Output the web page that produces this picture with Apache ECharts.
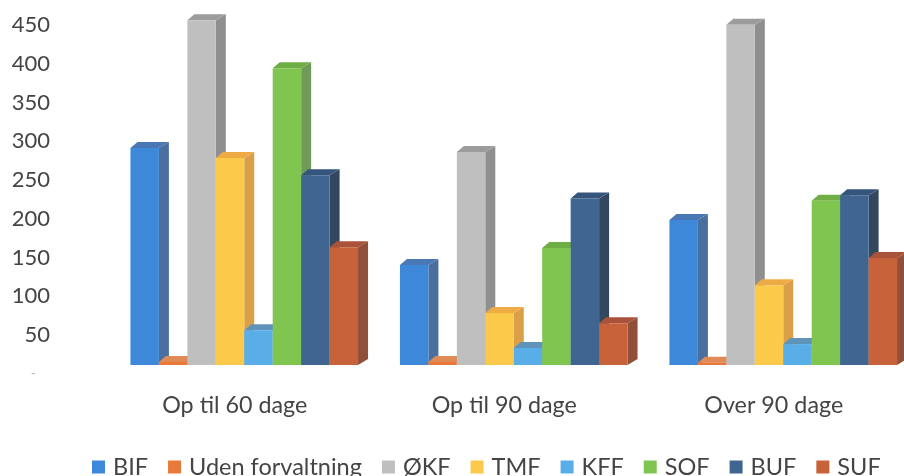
<!DOCTYPE html>
<html><head><meta charset="utf-8">
<style>html,body{margin:0;padding:0;background:#fff}#c{width:904px;height:476px}</style>
<script src="https://cdn.jsdelivr.net/npm/echarts@6/dist/echarts.min.js"></script>
</head><body><div id="c"></div>
<script>
const categories = ['Op til 60 dage','Op til 90 dage','Over 90 dage'];
const seriesNames = ['BIF','Uden forvaltning','ØKF','TMF','KFF','SOF','BUF','SUF'];
const BIF = [280,129,187];
const UDEN = [4,4,3];
const OKF = [445,275,439];
const TMF = [267,67,103];
const KFF = [45,22,27];
const SOF = [383,151,212];
const BUF = [245,215,219];
const SUF = [152,54,138];
const seriesValues = [BIF,UDEN,OKF,TMF,KFF,SOF,BUF,SUF];
// front, top, side face colours
const palette = [
  ['#3d88d8','#4a78b4','#4a6f9f'],
  ['#e8793a','#e08a55','#c8683a'],
  ['#bfbfbf','#9c9c9c','#8f8f8f'],
  ['#fdc94a','#eeaa45','#d9a048'],
  ['#5aaee8','#5f93ba','#5585a8'],
  ['#7fc550','#6fae45','#6f9a58'],
  ['#3f6590','#35557c','#33475f'],
  ['#c8623a','#a8533a','#8f4f38']
];
const CAT_STEP = 269.5, BAR_W = 28.45, DEPTH_X = 10, DEPTH_Y = 6, FRONT_DX = 9.5, FRONT_DY = -8.75;

function renderBar(si){
  return function(params, api){
    const cat = api.value(0), val = api.value(1);
    const top = api.coord([cat,val]), base = api.coord([cat,0]);
    const w = BAR_W, n = seriesNames.length;
    const x0 = top[0]+FRONT_DX-n*w/2+si*w, x1 = x0+w;
    const y0 = top[1]+FRONT_DY, y1 = base[1]+FRONT_DY;
    const c = palette[si];
    return {type:'group',children:[
      {type:'polygon',shape:{points:[[x1,y0],[x1+DEPTH_X,y0-DEPTH_Y],[x1+DEPTH_X,y1-DEPTH_Y],[x1,y1]]},style:{fill:c[2]}},
      {type:'polygon',shape:{points:[[x0,y0],[x0+DEPTH_X*0.7,y0-DEPTH_Y],[x1+DEPTH_X,y0-DEPTH_Y],[x1,y0]]},style:{fill:c[1]}},
      {type:'rect',shape:{x:x0,y:y0,width:w,height:y1-y0},style:{fill:c[0]}}
    ]};
  };
}

const chart = echarts.init(document.getElementById('c'),null,{renderer:'canvas'});
chart.setOption({
  animation:false,
  backgroundColor:'#fff',
  textStyle:{fontFamily:'Lato'},
  grid:{left:234.75,width:CAT_STEP*2,top:25,height:348.75},
  legend:{
    left:87,top:450,itemWidth:13,itemHeight:13,itemGap:20,icon:'rect',selectedMode:false,
    data:seriesNames,
    textStyle:{fontFamily:'Lato',fontSize:23.5,color:'#444',padding:[0,0,0,3]}
  },
  xAxis:{type:'category',boundaryGap:false,data:categories,axisLine:{show:false},axisTick:{show:false},
    axisLabel:{fontFamily:'Lato',fontSize:23.3,color:'#444',margin:20,interval:0}},
  yAxis:{type:'value',min:0,max:450,interval:50,axisLine:{show:false},axisTick:{show:false},splitLine:{show:false},
    axisLabel:{fontFamily:'Lato',fontSize:22,color:'#444',margin:184.75,
      formatter:function(v){return v===0?'{z|-}':String(v);},
      rich:{z:{fontSize:14,color:'#bbb',padding:[0,14,0,0]}}}},
  series:seriesNames.map((name,si)=>({
    name:name,type:'custom',z:2+si,
    itemStyle:{color:palette[si][0]},
    encode:{x:0,y:1},
    data:seriesValues[si].map((v,i)=>[i,v]),
    renderItem:renderBar(si)
  }))
});
</script></body></html>
